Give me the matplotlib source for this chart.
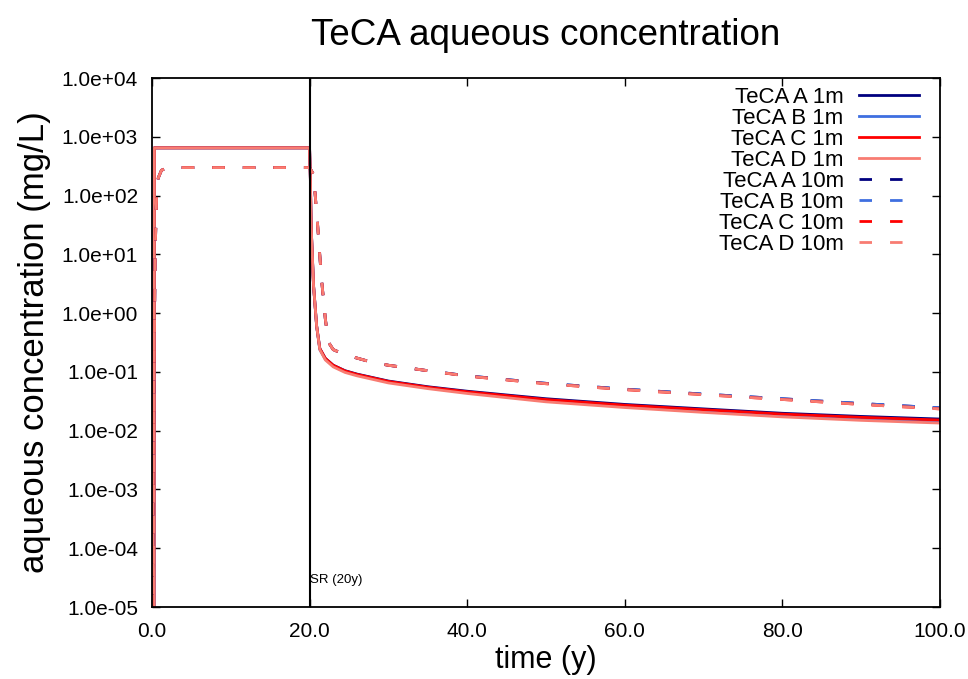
import matplotlib
matplotlib.use("Agg")
import matplotlib.pyplot as plt
from matplotlib.ticker import FuncFormatter, LogLocator, NullLocator

plt.rcParams['font.family'] = ['Liberation Sans', 'DejaVu Sans']

# time axes (years)
t_1m = [0.0, 0.25, 0.3, 20.0, 20.1, 20.2, 20.5, 20.9, 21.3, 22.0, 23.0, 24.5,
        26.0, 30.0, 35.0, 40.0, 50.0, 60.0, 70.0, 80.0, 90.0, 100.0]
t_10m = [0.05, 0.2, 0.4, 0.6, 0.8, 1.2, 2.0, 20.0, 20.5, 21.0, 21.5, 22.0,
         22.4, 23.0, 24.0, 25.5, 28.0, 30.0, 35.0, 40.0, 50.0, 60.0, 70.0,
         80.0, 90.0, 100.0]

# aqueous concentration (mg/L), 1 m depth
teca_a_1m = [1e-5, 1e-5, 650, 650, 200, 30, 3.0, 0.6, 0.25, 0.17, 0.13, 0.105,
             0.092, 0.07, 0.056, 0.047, 0.035, 0.028, 0.0235, 0.0198, 0.0175, 0.0158]
teca_b_1m = [1e-5, 1e-5, 650, 650, 200, 30, 3.0, 0.6, 0.24, 0.165, 0.126, 0.102,
             0.089, 0.068, 0.054, 0.045, 0.033, 0.026, 0.0218, 0.0184, 0.0162, 0.0145]
teca_c_1m = [1e-5, 1e-5, 650, 650, 200, 30, 3.0, 0.6, 0.25, 0.17, 0.13, 0.104,
             0.091, 0.069, 0.055, 0.046, 0.034, 0.0272, 0.0228, 0.0192, 0.0169, 0.0152]
teca_d_1m = [1e-5, 1e-5, 650, 650, 200, 30, 3.0, 0.6, 0.24, 0.16, 0.122, 0.098,
             0.086, 0.065, 0.052, 0.043, 0.031, 0.0248, 0.0205, 0.0172, 0.0150, 0.0135]

# aqueous concentration (mg/L), 10 m depth
teca_a_10m = [1e-5, 1e-2, 10, 120, 200, 270, 300, 300, 230, 35, 4.0, 0.8,
              0.32, 0.24, 0.21, 0.18, 0.145, 0.13, 0.105, 0.086, 0.064, 0.051,
              0.042, 0.035, 0.029, 0.0245]
teca_b_10m = [1e-5, 1e-2, 10, 120, 200, 270, 300, 300, 230, 35, 4.0, 0.8,
              0.32, 0.24, 0.21, 0.18, 0.145, 0.13, 0.105, 0.086, 0.064, 0.051,
              0.042, 0.035, 0.029, 0.0245]
teca_c_10m = [1e-5, 1e-2, 10, 120, 200, 270, 300, 300, 230, 35, 4.0, 0.8,
              0.32, 0.24, 0.21, 0.18, 0.145, 0.13, 0.105, 0.085, 0.063, 0.050,
              0.041, 0.034, 0.028, 0.0235]
teca_d_10m = [1e-5, 1e-2, 10, 120, 200, 270, 300, 300, 230, 35, 4.0, 0.8,
              0.32, 0.24, 0.21, 0.18, 0.145, 0.13, 0.105, 0.085, 0.063, 0.050,
              0.041, 0.034, 0.028, 0.0235]

labels_1m = ['TeCA A 1m', 'TeCA B 1m', 'TeCA C 1m', 'TeCA D 1m']
labels_10m = ['TeCA A 10m', 'TeCA B 10m', 'TeCA C 10m', 'TeCA D 10m']
colors = ['#00007f', '#3f6fe0', '#ff0000', '#f87c72']

x_ticks = [0, 20, 40, 60, 80, 100]
sr_time = 20.0

fig = plt.figure(figsize=(9.68, 6.79), dpi=100)
ax = fig.add_axes([0.157, 0.106, 0.814, 0.779])

for y, lab, c in zip([teca_a_1m, teca_b_1m, teca_c_1m, teca_d_1m], labels_1m, colors):
    ax.plot(t_1m, y, color=c, lw=2.0, label=lab)
for y, lab, c in zip([teca_a_10m, teca_b_10m, teca_c_10m, teca_d_10m], labels_10m, colors):
    ax.plot(t_10m, y, color=c, lw=2.0, dashes=(4.5, 6.5), label=lab)

ax.axvline(sr_time, color='black', lw=1.5)
ax.text(sr_time + 0.1, 2.9e-5, 'SR (20y)', fontsize=9.5, va='center', ha='left')

ax.set_yscale('log')
ax.set_xlim(0, 100)
ax.set_ylim(1e-5, 1e4)
ax.set_xticks(x_ticks)
ax.xaxis.set_major_formatter(FuncFormatter(lambda v, p: f'{v:.1f}'))
ax.yaxis.set_major_locator(LogLocator(base=10, numticks=20))
ax.yaxis.set_minor_locator(NullLocator())
ax.yaxis.set_major_formatter(FuncFormatter(lambda v, p: f'{v:.1e}'))
ax.tick_params(direction='in', length=6, width=1, top=True, right=True,
               labelsize=15)
ax.tick_params(axis='y', pad=10)
ax.tick_params(axis='x', pad=11)
for s in ax.spines.values():
    s.set_linewidth(1.3)

ax.set_title('TeCA aqueous concentration', fontsize=26.5, pad=24)
ax.set_xlabel('time (y)', fontsize=22, labelpad=3)
ax.set_ylabel('aqueous concentration (mg/L)', fontsize=25, labelpad=8)

ax.legend(loc='upper right', frameon=False, markerfirst=False, fontsize=16,
          handlelength=2.7, labelspacing=0.0, borderaxespad=0.0,
          handletextpad=0.7, bbox_to_anchor=(0.985, 1.0))

fig.savefig('out.png', dpi=100)
